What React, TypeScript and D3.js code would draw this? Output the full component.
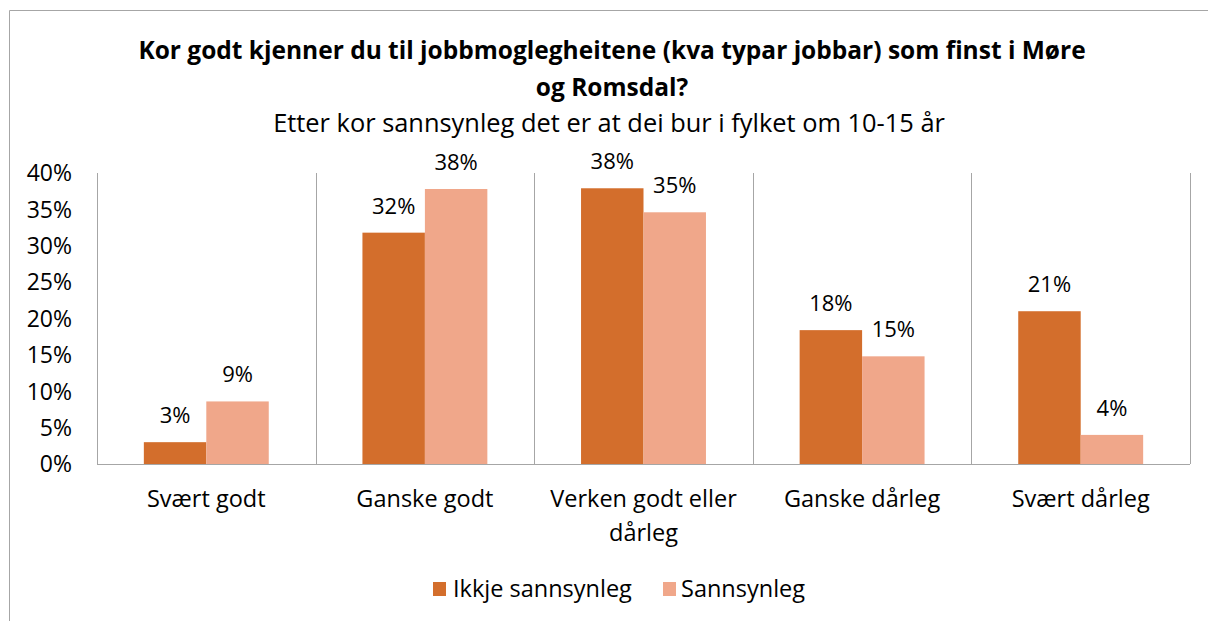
import React from "react";
import * as d3 from "d3";

const categories: string[][] = [
  ["Svært godt"],
  ["Ganske godt"],
  ["Verken godt eller", "dårleg"],
  ["Ganske dårleg"],
  ["Svært dårleg"],
];
const seriesNames = ["Ikkje sannsynleg", "Sannsynleg"];
const ikkjeSannsynleg = [3.0, 31.8, 37.9, 18.4, 21.0];
const sannsynleg = [8.6, 37.8, 34.6, 14.8, 4.0];
const yTicks = [0, 5, 10, 15, 20, 25, 30, 35, 40];
const titleLines = [
  "Kor godt kjenner du til jobbmoglegheitene (kva typar jobbar) som finst i Møre",
  "og Romsdal?",
];
const subtitle = "Etter kor sannsynleg det er at dei bur i fylket om 10-15 år";
const colors = ["#D36E2C", "#F0A78A"];

const W = 1208;
const H = 621;
const FONT = "'Open Sans', Lato, sans-serif";

export default function App() {
  const left = 97;
  const right = 1190;
  const top = 173;
  const bottom = 464;

  const x0 = d3
    .scaleBand<number>()
    .domain(d3.range(categories.length))
    .range([left, right])
    .paddingInner(0)
    .paddingOuter(0);
  const inner = d3
    .scaleBand<number>()
    .domain([0, 1])
    .range([0, x0.bandwidth()])
    .paddingInner(0)
    .paddingOuter(0.75);
  const y = d3.scaleLinear().domain([0, 40]).range([bottom, top]);

  const series = [ikkjeSannsynleg, sannsynleg];

  return (
    <svg
      width={W}
      height={H}
      style={{ position: "absolute", left: 0, top: 0, background: "#fff" }}
      fontFamily={FONT}
    >
      <rect x={0} y={0} width={W} height={H} fill="#fff" />
      {/* outer border */}
      <path d={`M9.5,${H} V10.5 H${W}`} fill="none" stroke="#A6A6A6" strokeWidth={1} />

      {/* title */}
      {titleLines.map((t, i) => (
        <text
          key={i}
          x={612}
          y={59 + i * 37}
          textAnchor="middle"
          fontSize={24.5}
          fontWeight="bold"
          fill="#000"
        >
          {t}
        </text>
      ))}
      <text x={609} y={132} textAnchor="middle" fontSize={25.4} fill="#000">
        {subtitle}
      </text>

      {/* vertical gridlines at category boundaries */}
      {d3.range(categories.length + 1).map((i) => {
        const xx = Math.round(left + i * x0.step()) + 0.5;
        return (
          <line key={i} x1={xx} x2={xx} y1={top} y2={bottom} stroke="#A6A6A6" strokeWidth={1} />
        );
      })}
      {/* x axis line */}
      <line x1={left} x2={right} y1={bottom + 0.5} y2={bottom + 0.5} stroke="#A6A6A6" strokeWidth={1} />

      {/* y tick labels */}
      {yTicks.map((t) => (
        <text
          key={t}
          x={72}
          y={y(t)}
          dy="0.36em"
          textAnchor="end"
          fontSize={23}
          fill="#000"
        >
          {t}%
        </text>
      ))}

      {/* bars */}
      {series.map((vals, si) =>
        vals.map((v, ci) => {
          const bx = (x0(ci) as number) + (inner(si) as number);
          const bw = inner.bandwidth();
          return (
            <g key={`${si}-${ci}`}>
              <rect x={bx} y={y(v)} width={bw} height={bottom - y(v)} fill={colors[si]} />
              <text
                x={bx + bw / 2}
                y={y(v) - 19}
                textAnchor="middle"
                fontSize={22}
                fill="#000"
              >
                {Math.round(v)}%
              </text>
            </g>
          );
        })
      )}

      {/* category labels */}
      {categories.map((lines, ci) => (
        <text
          key={ci}
          x={(x0(ci) as number) + x0.bandwidth() / 2}
          y={507}
          textAnchor="middle"
          fontSize={23.5}
          fill="#000"
        >
          {lines.map((l, li) => (
            <tspan key={li} x={(x0(ci) as number) + x0.bandwidth() / 2} dy={li === 0 ? 0 : 34}>
              {l}
            </tspan>
          ))}
        </text>
      ))}

      {/* legend */}
      <g>
        <rect x={433} y={582} width={13} height={14} fill={colors[0]} />
        <text x={453} y={597} fontSize={23.5} fill="#000">
          {seriesNames[0]}
        </text>
        <rect x={663} y={582} width={13} height={14} fill={colors[1]} />
        <text x={681} y={597} fontSize={23.5} fill="#000">
          {seriesNames[1]}
        </text>
      </g>
    </svg>
  );
}
